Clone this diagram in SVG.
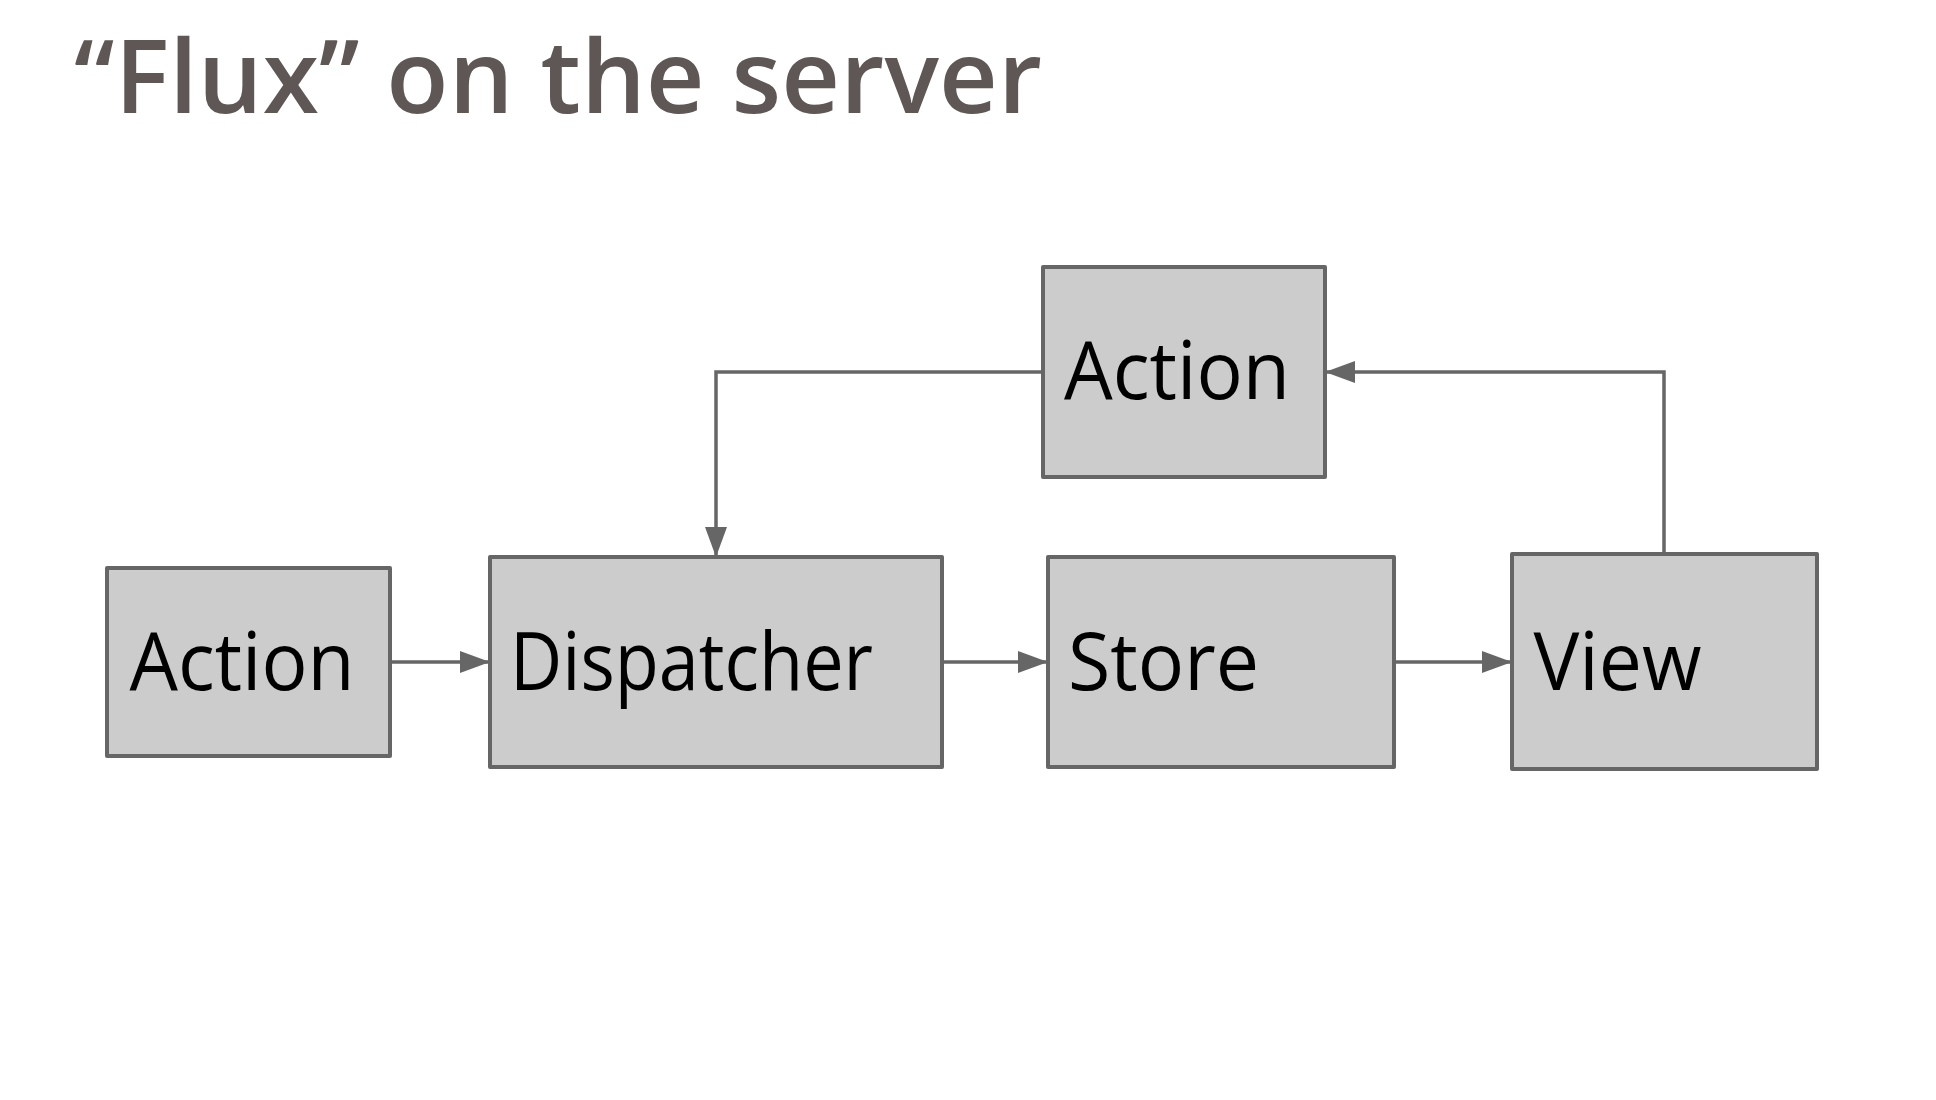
<svg xmlns="http://www.w3.org/2000/svg" width="1936" height="1100" viewBox="0 0 1936 1100">
<style>
.box{fill:#cccccc;stroke:#666666;stroke-width:4;stroke-linejoin:round}
.lbl{font-family:"Open Sans","Noto Sans",sans-serif;font-size:80px;fill:#000000}
.edge{fill:none;stroke:#666666;stroke-width:3.5}
.title{font-family:"Open Sans","Noto Sans",sans-serif;font-size:102px;font-weight:600;fill:#5f5756}
</style>
<defs>
<marker id="arr" viewBox="0 0 30 22" refX="30" refY="11" markerWidth="30" markerHeight="22" markerUnits="userSpaceOnUse" orient="auto">
<path d="M0,0 L30,11 L0,22 z" fill="#666666"/>
</marker>
</defs>
<rect width="1936" height="1100" fill="#ffffff"/>
<text class="title" x="74" y="113" textLength="968" lengthAdjust="spacing">“Flux” on the server</text>
<g id="connectors">
<line class="edge" x1="390" y1="662" x2="490" y2="662" marker-end="url(#arr)"/>
<line class="edge" x1="942" y1="662" x2="1048" y2="662" marker-end="url(#arr)"/>
<line class="edge" x1="1394" y1="662" x2="1512" y2="662" marker-end="url(#arr)"/>
<polyline class="edge" points="1043,372 716,372 716,557" marker-end="url(#arr)"/>
<polyline class="edge" points="1664,554 1664,372 1325,372" marker-end="url(#arr)"/>
</g>
<g id="action-left">
<rect class="box" x="107" y="568" width="283" height="188"/>
<text class="lbl" x="129.6" y="690" textLength="225" lengthAdjust="spacingAndGlyphs">Action</text>
</g>
<g id="dispatcher">
<rect class="box" x="490" y="557" width="452" height="210"/>
<text class="lbl" x="510" y="690" textLength="363" lengthAdjust="spacingAndGlyphs">Dispatcher</text>
</g>
<g id="store">
<rect class="box" x="1048" y="557" width="346" height="210"/>
<text class="lbl" x="1068" y="690" textLength="191" lengthAdjust="spacingAndGlyphs">Store</text>
</g>
<g id="view">
<rect class="box" x="1512" y="554" width="305" height="215"/>
<text class="lbl" x="1533.5" y="690" textLength="168" lengthAdjust="spacingAndGlyphs">View</text>
</g>
<g id="action-top">
<rect class="box" x="1043" y="267" width="282" height="210"/>
<text class="lbl" x="1064" y="399" textLength="226" lengthAdjust="spacingAndGlyphs">Action</text>
</g>
</svg>
